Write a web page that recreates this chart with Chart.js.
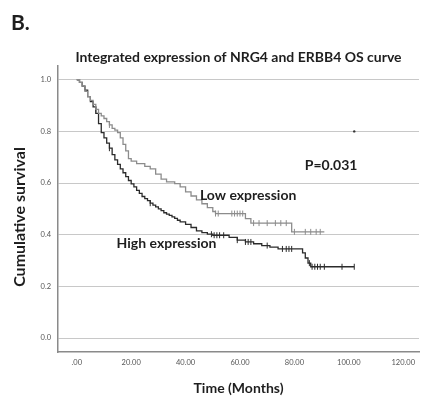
<!DOCTYPE html>
<html><head><meta charset="utf-8">
<script src="https://cdn.jsdelivr.net/npm/chart.js@4/dist/chart.umd.min.js"></script>
<style>html,body{margin:0;padding:0;background:#fff;overflow:hidden}canvas{display:block}</style>
</head><body>
<canvas id="c" width="423" height="397"></canvas>
<script>
// ---- data ----
const highTimes = [0,1,2,3,4,5,6,7,8,9,10,11,12,13,14,15,16,17,18,19,20,21,22,23,24,25,26,27,28,29,30,31,32,33,34,35,36,37,38,40,42,44,46,48,50,56,59,62,65,68,71,74,83,84,85,86,102];
const highSurv  = [1.0,0.99,0.975,0.96,0.935,0.915,0.895,0.87,0.83,0.795,0.775,0.755,0.735,0.71,0.69,0.672,0.655,0.64,0.625,0.61,0.597,0.585,0.572,0.56,0.548,0.54,0.532,0.522,0.515,0.508,0.5,0.493,0.485,0.48,0.475,0.469,0.463,0.456,0.45,0.44,0.428,0.415,0.408,0.402,0.398,0.39,0.379,0.372,0.365,0.358,0.352,0.345,0.33,0.31,0.29,0.276,0.276];
const lowTimes  = [0,1,2,3,4,5,6,7,8,9,10,11,12,13,14,15,16,17,18,19,20,22,25,27,29,31,33,36,38,40,42,44,46,48,50,51,62,64,79,91];
const lowSurv   = [1.0,0.99,0.975,0.955,0.935,0.92,0.905,0.885,0.87,0.86,0.85,0.838,0.825,0.812,0.805,0.795,0.775,0.75,0.725,0.695,0.685,0.675,0.665,0.655,0.635,0.615,0.605,0.598,0.585,0.566,0.55,0.535,0.52,0.505,0.49,0.482,0.462,0.445,0.411,0.411];
const highCensor = [12,27,49.5,50.5,51.5,52.5,54,59,62,63,64,70,75.6,77,78,79,85.5,86.5,87.5,88.5,89.5,91,97.5,102];
const lowCensor  = [7,12,51,52,57,58,59,60,61,65,67,70,73,75,77,80,84,86,88,89.5];
const strayPoint = [{x:102, y:0.8}];
const xTickValues = [0,20,40,60,80,100,120];
const xTickLabels = ['.00','20.00','40.00','60.00','80.00','100.00','120.00'];
const yTickValues = [0,0.2,0.4,0.6,0.8,1.0];
const yTickLabels = ['0.0','0.2','0.4','0.6','0.8','1.0'];
const seriesNames = ['High expression','Low expression'];
const pValueText = 'P=0.031';
const titleText = 'Integrated expression of NRG4 and ERBB4 OS curve';
const xTitleText = 'Time (Months)';
const yTitleText = 'Cumulative survival';
const panelLabel = 'B.';

// ---- helpers ----
function toPoints(ts, ss){ return ts.map((t,i)=>({x:t,y:ss[i]})); }
function survAt(ts, ss, t){ let v = ss[0]; for(let i=0;i<ts.length;i++){ if(ts[i]<=t) v=ss[i]; } return v; }
function censorPoints(cs, ts, ss){ return cs.map(t=>({x:t,y:survAt(ts,ss,t)})); }

const HIGH_COL = '#2b2b2b';
const LOW_COL = '#8c8c8c';
const FONT = 'Lato, "Liberation Sans", Arial, sans-serif';

const textPlugin = {
  id:'texts',
  afterDraw(chart){
    const {ctx, scales:{x,y}} = chart;
    ctx.save();
    ctx.fillStyle = '#1e1e1e';
    ctx.textAlign = 'center'; ctx.textBaseline = 'middle';
    ctx.font = 'bold 14px ' + FONT;
    ctx.fillText(pValueText, x.getPixelForValue(93.5), y.getPixelForValue(0.67));
    ctx.fillText(seriesNames[1], x.getPixelForValue(63), y.getPixelForValue(0.553));
    ctx.fillText(seriesNames[0], x.getPixelForValue(33), y.getPixelForValue(0.367));
    // y-axis title
    ctx.save();
    ctx.translate(20, 217);
    ctx.rotate(-Math.PI/2);
    ctx.font = 'bold 16px ' + FONT;
    ctx.fillText(yTitleText, 0, 0);
    ctx.restore();
    ctx.textAlign = 'left';
    ctx.font = 'bold 21px ' + FONT;
    ctx.fillText(panelLabel, 11, 23);
    ctx.restore();
  }
};

new Chart(document.getElementById('c'), {
  type:'line',
  data:{
    datasets:[
      {label:seriesNames[1], data:toPoints(lowTimes,lowSurv), borderColor:LOW_COL, borderWidth:1.3, stepped:'before', pointRadius:0, fill:false},
      {label:seriesNames[0], data:toPoints(highTimes,highSurv), borderColor:HIGH_COL, borderWidth:1.3, stepped:'before', pointRadius:0, fill:false},
      {type:'scatter', data:censorPoints(lowCensor,lowTimes,lowSurv), showLine:false, pointStyle:'line', rotation:90, pointRadius:3, borderColor:LOW_COL, borderWidth:1, pointHoverRadius:3},
      {type:'scatter', data:censorPoints(highCensor,highTimes,highSurv), showLine:false, pointStyle:'line', rotation:90, pointRadius:3, borderColor:HIGH_COL, borderWidth:1, pointHoverRadius:3},
      {type:'scatter', data:strayPoint, showLine:false, pointRadius:1.2, backgroundColor:'#333', borderWidth:0}
    ]
  },
  options:{
    responsive:false, animation:false, events:[],
    layout:{padding:0},
    plugins:{
      legend:{display:false}, tooltip:{enabled:false},
      title:{display:true, fullSize:false, text:titleText, color:'#1e1e1e', font:{family:FONT, size:14, weight:'bold'}, padding:{top:49,bottom:0}}
    },
    scales:{
      x:{type:'linear', min:-6.9, max:125.8,
        afterBuildTicks(s){ s.ticks = xTickValues.map(v=>({value:v})); },
        afterFit(s){ s.height = 45; s.paddingLeft = 0; s.paddingRight = 0; },
        grid:{display:false, drawTicks:false},
        border:{display:true, color:'#8a8a8a', width:1.5},
        ticks:{autoSkip:false, maxRotation:0, padding:6, color:'#555', font:{family:FONT, size:7.5}, callback:(v,i)=>xTickLabels[i]},
        title:{display:true, text:xTitleText, color:'#1e1e1e', font:{family:FONT, size:14, weight:'bold'}, padding:{top:0,bottom:0}}
      },
      y:{type:'linear', min:-0.054, max:1.054,
        afterBuildTicks(s){ s.ticks = yTickValues.map(v=>({value:v})); },
        afterFit(s){ s.width = 58; s.paddingTop = 0; s.paddingBottom = 0; },
        grid:{display:true, drawTicks:false, color:'#c8c8c8', lineWidth:1},
        border:{display:true, color:'#8a8a8a', width:1.5},
        ticks:{autoSkip:false, padding:7, color:'#555', font:{family:FONT, size:7.5}, callback:(v,i)=>yTickLabels[i]},
        title:{display:false}
      }
    }
  },
  plugins:[textPlugin]
});
</script>
</body></html>
